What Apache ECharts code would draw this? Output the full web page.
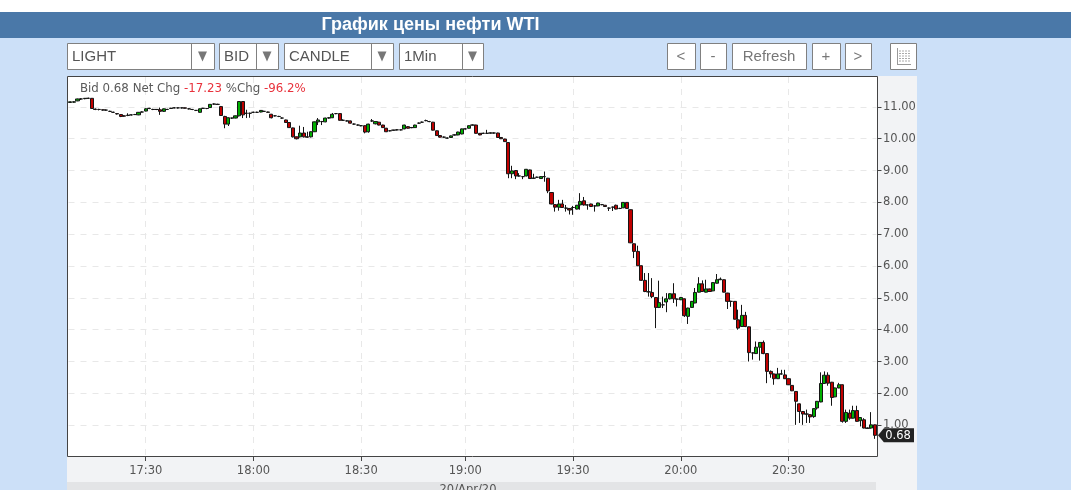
<!DOCTYPE html>
<html><head><meta charset="utf-8">
<style>html,body{margin:0;padding:0;background:#cce0f8;overflow:hidden}#c{width:1071px;height:490px}</style>
<script src="https://cdn.jsdelivr.net/npm/echarts@6/dist/echarts.min.js"></script>
</head><body><div id="c"></div>
<script>
const chartTitle='График цены нефти WTI';
const timeTickLabels=['17:30','18:00','18:30','19:00','19:30','20:00','20:30'];
const priceTicks=[1,2,3,4,5,6,7,8,9,10,11];
const dateLabel='20/Apr/20';
const categories=[
'17:09','17:10','17:11','17:12','17:13','17:14','17:15','17:16','17:17','17:18','17:19','17:20','17:21','17:22','17:23','17:24','17:25','17:26','17:27','17:28','17:29',
'17:30','17:31','17:32','17:33','17:34','17:35','17:36','17:37','17:38','17:39','17:40','17:41','17:42','17:43','17:44','17:45','17:46','17:47','17:48','17:49','17:50','17:51','17:52','17:53','17:54','17:55','17:56','17:57','17:58','17:59',
'18:00','18:01','18:02','18:03','18:04','18:05','18:06','18:07','18:08','18:09','18:10','18:11','18:12','18:13','18:14','18:15','18:16','18:17','18:18','18:19','18:20','18:21','18:22','18:23','18:24','18:25','18:26','18:27','18:28','18:29',
'18:30','18:31','18:32','18:33','18:34','18:35','18:36','18:37','18:38','18:39','18:40','18:41','18:42','18:43','18:45','18:46','18:47','18:48','18:49','18:50','18:51','18:52','18:53','18:54','18:55','18:56','18:57','18:58','18:59',
'19:00','19:01','19:02','19:03','19:04','19:05','19:06','19:07','19:08','19:09','19:10','19:11','19:12','19:13','19:14','19:15','19:16','19:17','19:18','19:19','19:20','19:21','19:22','19:23','19:24','19:25','19:26','19:27','19:28','19:29',
'19:30','19:31','19:32','19:33','19:34','19:35','19:36','19:37','19:38','19:39','19:40','19:41','19:42','19:43','19:44','19:45','19:46','19:47','19:48','19:49','19:50','19:51','19:52','19:53','19:54','19:55','19:56','19:57','19:58','19:59',
'20:00','20:01','20:02','20:03','20:04','20:05','20:06','20:07','20:08','20:09','20:10','20:11','20:12','20:13','20:14','20:15','20:16','20:17','20:18','20:19','20:20','20:21','20:22','20:23','20:24','20:25','20:26','20:27','20:28','20:29',
'20:30','20:31','20:32','20:33','20:34','20:35','20:36','20:37','20:38','20:39','20:40','20:41','20:42','20:43','20:44','20:45','20:46','20:47','20:48','20:49','20:50','20:51','20:52','20:53','20:54'];
const opens=[
11.14,11.15,11.19,11.25,11.26,11.27,11.27,10.93,10.92,10.91,
10.90,10.86,10.83,10.79,10.76,10.72,10.73,10.75,10.76,10.75,
10.84,10.87,10.95,10.92,10.92,10.91,10.86,10.92,10.95,10.97,
10.97,10.97,10.97,10.94,10.92,10.89,10.83,10.95,10.95,10.98,
11.09,11.08,11.01,10.70,10.46,10.65,10.65,10.72,11.17,10.80,
10.80,10.83,10.83,10.84,10.86,10.84,10.77,10.72,10.70,10.65,
10.59,10.51,10.34,10.06,10.06,10.18,10.06,10.06,10.22,10.53,
10.54,10.53,10.65,10.66,10.79,10.79,10.58,10.56,10.56,10.46,
10.43,10.41,10.41,10.22,10.56,10.47,10.52,10.43,10.33,10.25,
10.27,10.28,10.28,10.31,10.38,10.35,10.35,10.49,10.52,10.57,
10.54,10.52,10.25,10.10,10.05,10.02,10.04,10.12,10.12,10.15,
10.31,10.33,10.43,10.43,10.17,10.17,10.17,10.18,10.18,10.18,
10.04,9.99,9.88,8.90,9.00,8.83,8.81,8.83,9.02,8.76,
8.79,8.75,8.81,8.76,8.31,7.93,7.85,7.95,7.82,7.81,
7.84,7.79,7.92,8.05,7.92,7.95,7.89,7.89,7.93,7.91,
7.82,7.85,7.91,7.81,7.83,8.00,7.77,6.70,6.46,6.01,
5.55,5.19,5.17,5.01,4.70,4.78,4.87,4.97,5.13,4.96,
4.94,4.97,4.42,4.70,4.84,5.18,5.44,5.18,5.28,5.22,
5.46,5.57,5.57,5.15,4.89,4.89,4.31,4.10,4.45,4.09,
3.27,3.25,3.45,3.60,3.25,2.69,2.61,2.46,2.61,2.58,
2.46,2.25,2.06,1.67,1.43,1.35,1.33,1.27,1.54,1.73,
2.31,2.57,2.35,1.89,2.17,2.27,1.12,1.38,1.22,1.46,
1.14,1.17,0.91,0.91,1.01];
const closes=[
11.16,11.16,11.25,11.25,11.27,11.27,10.95,10.92,10.92,10.90,
10.90,10.86,10.83,10.78,10.70,10.71,10.74,10.75,10.76,10.83,
10.84,10.94,10.96,10.92,10.92,10.86,10.94,10.92,10.96,10.97,
10.97,10.97,10.96,10.94,10.92,10.89,10.94,10.96,10.95,11.08,
11.09,11.08,10.73,10.46,10.66,10.65,10.72,11.17,10.75,10.80,
10.80,10.83,10.83,10.89,10.86,10.83,10.66,10.72,10.70,10.65,
10.51,10.35,10.06,10.00,10.18,10.06,10.05,10.22,10.53,10.59,
10.54,10.65,10.66,10.77,10.79,10.58,10.58,10.56,10.49,10.46,
10.43,10.41,10.21,10.46,10.56,10.54,10.43,10.35,10.22,10.25,
10.27,10.28,10.28,10.43,10.33,10.35,10.43,10.49,10.52,10.57,
10.54,10.27,10.10,10.05,10.05,10.02,10.09,10.12,10.21,10.31,
10.31,10.41,10.43,10.17,10.12,10.17,10.17,10.18,10.18,10.04,
10.00,9.91,8.90,8.99,8.83,8.83,8.81,9.04,8.75,8.76,
8.79,8.81,8.81,8.36,7.95,7.85,7.95,7.84,7.82,7.76,
7.84,7.91,8.03,7.92,7.92,7.87,7.89,7.98,7.93,7.87,
7.82,7.85,7.79,7.81,8.00,7.81,6.73,6.46,6.01,5.55,
5.20,5.19,5.04,4.70,4.85,4.78,4.97,5.13,4.97,4.96,
5.01,4.44,4.68,4.89,5.17,5.44,5.20,5.28,5.20,5.48,
5.57,5.59,5.18,4.89,4.89,4.33,4.05,4.45,4.10,3.28,
3.27,3.45,3.60,3.25,2.69,2.61,2.46,2.61,2.61,2.46,
2.27,2.08,1.75,1.43,1.35,1.35,1.26,1.52,1.75,2.31,
2.57,2.32,1.87,2.17,2.27,1.12,1.40,1.22,1.46,1.12,
1.24,0.91,0.90,1.01,0.68];
const lows=[
11.13,11.13,11.18,11.22,11.24,11.25,10.94,10.90,10.89,10.88,
10.88,10.84,10.81,10.76,10.68,10.69,10.71,10.73,10.75,10.74,
10.83,10.86,10.93,10.90,10.90,10.75,10.84,10.91,10.94,10.96,
10.95,10.95,10.95,10.92,10.90,10.87,10.82,10.94,10.93,10.97,
11.07,11.06,10.72,10.33,10.40,10.62,10.64,10.70,10.65,10.65,
10.66,10.81,10.81,10.83,10.84,10.82,10.64,10.70,10.68,10.63,
10.50,10.34,10.04,9.98,10.04,10.04,10.03,10.04,10.21,10.43,
10.43,10.52,10.63,10.65,10.77,10.57,10.56,10.54,10.48,10.44,
10.41,10.39,10.17,10.19,10.53,10.45,10.42,10.34,10.21,10.23,
10.25,10.26,10.26,10.30,10.32,10.33,10.34,10.47,10.50,10.55,
10.52,10.26,10.09,10.04,10.03,10.00,10.03,10.10,10.11,10.14,
10.29,10.32,10.42,10.16,10.11,10.15,10.15,10.16,10.16,10.03,
9.99,9.90,8.76,8.76,8.73,8.81,8.73,8.82,8.74,8.74,
8.77,8.74,8.65,8.29,7.94,7.71,7.74,7.83,7.71,7.62,
7.61,7.78,7.77,7.90,7.77,7.86,7.71,7.88,7.91,7.86,
7.73,7.73,7.78,7.79,7.82,7.80,6.72,6.25,6.00,5.53,
5.18,5.04,4.99,4.05,4.68,4.68,4.55,4.95,4.84,4.73,
4.93,4.40,4.18,4.69,4.83,5.17,5.19,5.17,5.19,5.21,
5.45,5.56,5.17,4.65,4.72,4.32,4.00,4.09,4.08,3.00,
3.06,3.24,3.03,3.23,2.32,2.49,2.27,2.45,2.59,2.45,
2.26,2.07,1.01,1.07,1.01,1.07,1.07,1.23,1.49,1.72,
2.30,2.24,1.61,1.88,2.16,1.08,1.07,1.17,1.21,1.11,
0.96,0.90,0.88,0.89,0.57];
const highs=[
11.17,11.18,11.26,11.27,11.28,11.29,11.28,10.95,10.94,10.92,
10.92,10.88,10.85,10.80,10.77,10.74,10.80,10.76,10.78,10.84,
10.86,10.96,10.97,10.94,10.93,10.98,10.95,10.94,10.97,10.99,
10.98,10.98,10.98,10.95,10.93,10.90,10.95,10.97,10.96,11.09,
11.11,11.10,11.03,10.72,10.67,10.66,10.73,11.17,11.17,10.91,
10.82,10.85,10.85,10.90,10.88,10.85,10.78,10.74,10.72,10.67,
10.60,10.52,10.35,10.07,10.41,10.37,10.22,10.23,10.54,10.65,
10.56,10.66,10.68,10.81,10.80,10.80,10.61,10.58,10.57,10.48,
10.45,10.43,10.42,10.47,10.62,10.55,10.53,10.44,10.34,10.27,
10.28,10.30,10.29,10.44,10.40,10.37,10.44,10.51,10.54,10.60,
10.56,10.53,10.26,10.11,10.07,10.04,10.10,10.14,10.22,10.32,
10.33,10.42,10.45,10.44,10.18,10.19,10.28,10.20,10.20,10.19,
10.05,10.00,9.89,9.15,9.01,8.92,8.83,9.05,9.03,8.90,
8.81,8.82,8.97,8.77,8.32,7.94,8.08,8.08,7.92,7.82,
7.89,7.92,8.29,8.17,7.94,7.96,7.91,7.99,7.95,7.92,
7.84,7.87,7.93,7.83,8.01,8.01,7.78,6.71,6.64,6.02,
5.78,5.78,5.62,5.02,5.54,5.04,5.15,5.14,5.46,4.98,
5.03,4.98,4.69,4.90,5.31,5.65,5.55,5.57,5.29,5.49,
5.75,5.64,5.58,5.16,4.91,4.90,4.63,4.78,4.56,4.10,
3.29,3.63,3.61,3.66,3.26,2.72,2.62,2.80,2.74,2.74,
2.47,2.26,2.07,1.68,1.44,1.49,1.34,1.53,1.76,2.66,
2.69,2.66,2.36,2.18,2.33,2.28,1.49,1.49,1.61,1.61,
1.25,1.22,0.93,1.41,1.02];
const candleRows=opens.map((o,i)=>[o,closes[i],lows[i],highs[i]]);
const lastCategory=categories[opens.length-1];
const lastPrice=closes[closes.length-1];

const uiFont='"Liberation Sans",Arial,sans-serif';
const chartFont='"DejaVu Sans",Verdana,sans-serif';
const boxLine='#808080';
function rect(x,y,w,h,fill,z,stroke){return {type:'rect',z:z||0,silent:true,shape:{x,y,width:w,height:h},style:{fill:fill,stroke:stroke||null,lineWidth:stroke?1:0}};}
function txt(s,x,y,font,fill,align){return {type:'text',z:5,silent:true,style:{text:s,x,y,font,fill,align:align||'left',verticalAlign:'middle'}};}
function dropdown(label,x0,xd,x1){
  const cy=56.5;
  return [rect(x0+.5,43.5,x1-x0,26,'#fff',1,boxLine),
    {type:'line',z:2,silent:true,shape:{x1:xd+.5,y1:44,x2:xd+.5,y2:69},style:{stroke:boxLine,lineWidth:1}},
    {type:'polygon',z:2,silent:true,shape:{points:[[(xd+x1)/2-4.5,cy-5],[(xd+x1)/2+4.5,cy-5],[(xd+x1)/2,cy+5]]},style:{fill:'#777'}},
    txt(label,x0+5,cy+.5,'15px '+uiFont,'#555')];
}
function button(label,x0,x1){return [rect(x0+.5,43.5,x1-x0,26,'#fff',1,boxLine),txt(label,(x0+x1)/2,56.5,'15px '+uiFont,'#777','center')];}
const tableIcon=[rect(890.5,43.5,26,26,'#fff',1,boxLine),
  {type:'line',z:2,silent:true,shape:{x1:897.5,y1:48,x2:897.5,y2:64.5},style:{stroke:'#999',lineWidth:1}},
  {type:'line',z:2,silent:true,shape:{x1:897,y1:64.5,x2:911,y2:64.5},style:{stroke:'#999',lineWidth:1}},
  ...[51,53.5,56,58.5,61].map(y=>({type:'line',z:2,silent:true,shape:{x1:899,y1:y,x2:910,y2:y},style:{stroke:'#aaa',lineWidth:1,lineDash:[2,1]}}))];

const option={
  animation:false,
  backgroundColor:'#cce0f8',
  graphic:{elements:[
    rect(0,0,1071,12,'#ffffff',-5),
    rect(0,12,1071,26,'#4a78a8',-5),
    rect(67,76,850,414,'#f2f3f5',-4),
    rect(67,482,809,8,'#e3e4e6',-3),
    rect(68,77,810,380,'#ffffff',-2),
    rect(67.5,76.5,810,380,null,20,'#444444'),
    txt(chartTitle,430.5,25.5,'bold 18px '+uiFont,'#ffffff','center'),
    ...dropdown('LIGHT',67,191,214),
    ...dropdown('BID',219,256,278),
    ...dropdown('CANDLE',284,371,393),
    ...dropdown('1Min',399,462,483),
    ...button('<',667,695),...button('-',700,726),...button('Refresh',732,806),...button('+',812,840),...button('>',845,871),
    ...tableIcon,
    txt(dateLabel,468,490.5,'11.5px '+chartFont,'#555','center')
  ]},
  title:{left:80,top:83,padding:0,text:
    '{g|Bid 0.68 Net Chg }{r|-17.23 }{g|%Chg }{r|-96.2%}',
    textStyle:{rich:{g:{fontFamily:chartFont,fontSize:11.8,fontWeight:'normal',color:'#5a5a5a'},r:{fontFamily:chartFont,fontSize:11.8,fontWeight:'normal',color:'#e8323c'}}}},
  grid:{left:68.5,top:77,width:808,height:380,containLabel:false},
  xAxis:{type:'category',data:categories,boundaryGap:true,
    axisLine:{show:false},
    axisTick:{show:true,alignWithLabel:true,length:4,lineStyle:{color:'#444'},interval:(i,v)=>timeTickLabels.includes(v)},
    axisLabel:{show:true,margin:8,color:'#555',fontFamily:chartFont,fontSize:11.5,interval:(i,v)=>timeTickLabels.includes(v)},
    splitLine:{show:true,alignWithLabel:true,lineStyle:{color:'#e8e8e8',type:[6,6]},interval:(i,v)=>timeTickLabels.includes(v)}},
  yAxis:{type:'value',position:'right',offset:1,min:0,max:11.94,interval:1,scale:false,
    axisLine:{show:false,onZero:false},
    axisTick:{show:true,length:4,lineStyle:{color:'#444'},customValues:priceTicks},
    axisLabel:{show:true,margin:5.5,padding:[2,0,0,0],color:'#555',fontFamily:chartFont,fontSize:11.5,customValues:priceTicks,formatter:v=>v.toFixed(2)},
    splitLine:{show:true,lineStyle:{color:'#e8e8e8',type:[6,6]}}},
  series:[{type:'candlestick',data:candleRows,barWidth:3.6,
    itemStyle:{color:'#00b000',color0:'#c00000',borderColor:'#151515',borderColor0:'#151515',borderWidth:1},
    markPoint:{silent:true,symbol:'path://M0 7 L7 0 L43 0 L43 14 L7 14 Z',symbolSize:[36,14],symbolOffset:[21.3,0],
      data:[{coord:[lastCategory,lastPrice],value:lastPrice.toFixed(2)}],
      itemStyle:{color:'#222222'},
      label:{show:true,position:'inside',color:'#ffffff',fontFamily:chartFont,fontSize:11.5,offset:[2,1],formatter:p=>p.value}}
  }]
};
const chart=echarts.init(document.getElementById('c'),null,{renderer:'canvas',width:1071,height:490});
chart.setOption(option);
</script></body></html>
